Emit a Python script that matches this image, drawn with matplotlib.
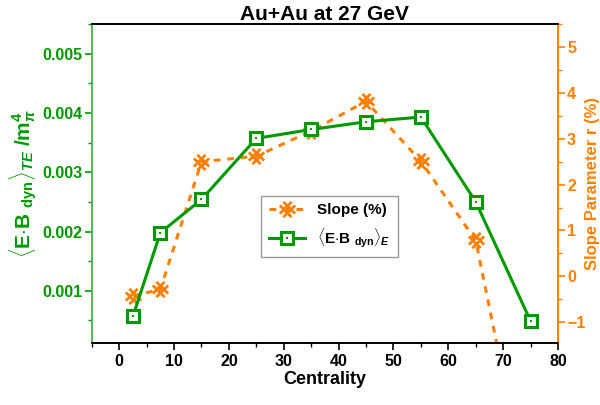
import matplotlib
matplotlib.use("Agg")
import matplotlib.pyplot as plt
from matplotlib.path import Path
from matplotlib.ticker import MultipleLocator, FormatStrFormatter
from matplotlib.legend_handler import HandlerTuple
import numpy as np

plt.rcParams['font.family'] = ['Liberation Sans', 'DejaVu Sans']
plt.rcParams['font.weight'] = 'bold'
plt.rcParams['mathtext.fontset'] = 'custom'
plt.rcParams['mathtext.rm'] = 'Liberation Sans:bold'
plt.rcParams['mathtext.it'] = 'Liberation Sans:bold:italic'
plt.rcParams['mathtext.bf'] = 'Liberation Sans:bold'

# Data
centrality = [2.5, 7.5, 15, 25, 35, 45, 55, 65, 75]
eb_dyn = [0.00057, 0.00198, 0.00254, 0.00357, 0.00372, 0.00385, 0.00393, 0.00250, 0.00049]
slope = [-0.43, -0.29, 2.50, 2.62, 3.17, 3.82, 2.51, 0.78, -5.1]

GREEN = '#009a00'
ORANGE = '#ff8000'

# custom hatched-X marker (rotated #)
a = 0.3
segs = [(-a, -1), (-a, 1), (a, -1), (a, 1), (-1, -a), (1, -a), (-1, a), (1, a)]
c, s = np.cos(np.pi / 4), np.sin(np.pi / 4)
verts = [(x * c - y * s, x * s + y * c) for x, y in segs]
codes = [Path.MOVETO, Path.LINETO] * 4
xmark = Path(verts, codes)

fig = plt.figure(figsize=(6.0, 4.05), dpi=100)
ax1 = fig.add_axes([0.153, 0.153, 0.777, 0.788])
ax2 = ax1.twinx()
ax1.set_zorder(ax2.get_zorder() + 1)
ax1.patch.set_visible(False)

# orange slope on right axis
l2, = ax2.plot(centrality, slope, color=ORANGE, lw=2.2, ls=(0, (2.2, 2.2)),
               marker=xmark, ms=11, mew=2.0, mec=ORANGE, mfc='none')

# green on left axis
l1, = ax1.plot(centrality, eb_dyn, color=GREEN, lw=2.2, marker='s', ms=9,
               mew=2.2, mec=GREEN, mfc='white')
d1, = ax1.plot(centrality, eb_dyn, ls='none', marker='s', ms=2, mew=0, color=GREEN)

ax1.set_xlim(-5, 80)
ax1.set_ylim(0.00012, 0.0055)
ax2.set_ylim(-1.46, 5.51)

ax1.xaxis.set_major_locator(MultipleLocator(10))
ax1.xaxis.set_minor_locator(MultipleLocator(5))
ax1.yaxis.set_major_locator(MultipleLocator(0.001))
ax1.yaxis.set_minor_locator(MultipleLocator(0.0005))
ax1.yaxis.set_major_formatter(FormatStrFormatter('%.3f'))
ax2.yaxis.set_major_locator(MultipleLocator(1))
ax2.yaxis.set_minor_locator(MultipleLocator(0.5))

for ax in (ax1, ax2):
    ax.tick_params(which='both', direction='out')
    ax.tick_params(which='major', length=5, width=1.2)
    ax.tick_params(which='minor', length=3, width=1.0)

ax1.tick_params(axis='x', labelsize=11.5, colors='black', pad=3)
ax1.tick_params(axis='y', which='both', colors=GREEN, labelsize=11.5, pad=2)
ax2.tick_params(axis='y', which='both', colors=ORANGE, labelsize=11.5, pad=1.5)

for ax in (ax1, ax2):
    ax.spines['left'].set_color('#55b855')
    ax.spines['right'].set_color(ORANGE)
    ax.spines['top'].set_color('black')
    ax.spines['bottom'].set_color('black')
    for sp in ax.spines.values():
        sp.set_linewidth(1.2)

ax1.set_xlabel('Centrality', fontsize=13, fontweight='bold', labelpad=1)
ax1.set_ylabel(r'$\langle$E$\cdot$B $_{\mathregular{dyn}}\rangle_{TE}$ /m$_\pi^4$',
               fontsize=15, color=GREEN, fontweight='bold', labelpad=2)
ax2.set_ylabel('Slope Parameter r (%)', fontsize=12, color=ORANGE, fontweight='bold',
               labelpad=0)
ax1.set_title('Au+Au at 27 GeV', fontsize=15, fontweight='bold', pad=3)

leg = ax1.legend([l2, (l1, d1)],
                 ['Slope (%)', r'$\langle$E$\cdot$B $_{\mathregular{dyn}}\rangle_E$'],
                 handler_map={tuple: HandlerTuple(ndivide=1)},
                 loc='center', bbox_to_anchor=(0.51, 0.365), fontsize=11,
                 fancybox=False, edgecolor='#999999', framealpha=1,
                 handlelength=2.4, borderpad=0.5, labelspacing=0.6)
leg.get_frame().set_linewidth(1.0)

fig.savefig('out.png', dpi=100)
